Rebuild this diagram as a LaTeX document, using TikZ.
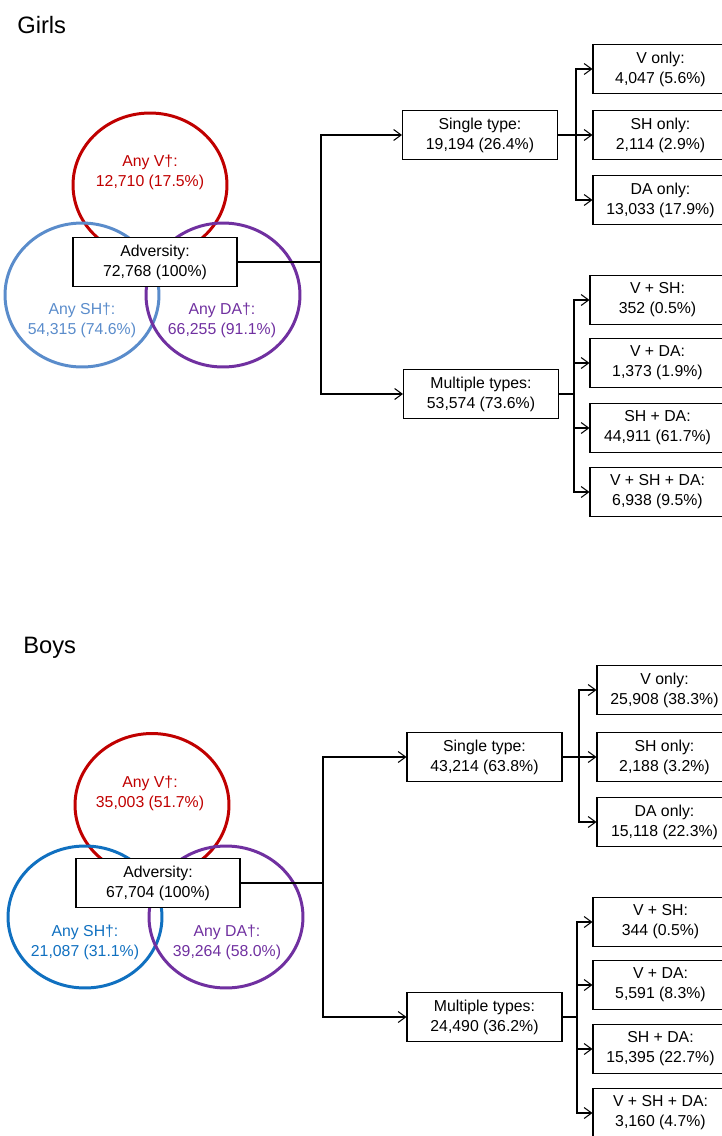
\documentclass[tikz,border=0pt]{standalone}
\usepackage{fontspec}
\setmainfont{Liberation Sans}
\usetikzlibrary{arrows.meta}
\definecolor{vcolor}{HTML}{C00000}
\definecolor{shgirlscolor}{HTML}{5A8CCB}
\definecolor{shboyscolor}{HTML}{1070C0}
\definecolor{dacolor}{HTML}{7030A0}

\tikzset{
  countbox/.style={draw, fill=white, rectangle, line width=0.6pt, align=center, inner sep=0pt,
    minimum width=2.7cm, minimum height=0.98cm, font=\fontsize{9pt}{11.4pt}\selectfont},
  splitbox/.style={countbox, minimum width=3.1cm},
  totalbox/.style={countbox, minimum width=3.28cm},
  setlabel/.style={align=center, inner sep=0pt, font=\fontsize{9pt}{11.4pt}\selectfont},
  setring/.style={line width=1.7pt},
  link/.style={line width=0.6pt},
  arrowlink/.style={link, -{Straight Barb[length=1.5mm,width=2.2mm]}},
  paneltitle/.style={anchor=west, inner sep=0pt, font=\fontsize{13.5pt}{16pt}\selectfont}
}

\begin{document}
\begin{tikzpicture}[x=0.02cm, y=-0.02cm]
\useasboundingbox (0,0) rectangle (722,1136);
\clip (0,0) rectangle (722,1136);

% Girls
\node[paneltitle] (girlstitle) at (17,25) {Girls};
\draw[setring, vcolor] (150,185) ellipse [x radius=1.54cm, y radius=1.44cm];
\draw[setring, shgirlscolor] (82,295) ellipse [x radius=1.54cm, y radius=1.44cm];
\draw[setring, dacolor] (223,295) ellipse [x radius=1.54cm, y radius=1.44cm];
\node[setlabel, text=vcolor] (gvlabel) at (150,172) {Any V†:\\12,710 (17.5\%)};
\node[setlabel, text=shgirlscolor] (gshlabel) at (82,320) {Any SH†:\\54,315 (74.6\%)};
\node[setlabel, text=dacolor] (gdalabel) at (222,320) {Any DA†:\\66,255 (91.1\%)};
\node[totalbox] (gadv) at (155,262) {Adversity:\\72,768 (100\%)};

\node[splitbox] (gsingle) at (480,135) {Single type:\\19,194 (26.4\%)};
\node[splitbox] (gmulti) at (481,394) {Multiple types:\\53,574 (73.6\%)};

\node[countbox] (gvonly) at (660.5,69) {V only:\\4,047 (5.6\%)};
\node[countbox] (gshonly) at (660.5,135) {SH only:\\2,114 (2.9\%)};
\node[countbox] (gdaonly) at (660.5,200) {DA only:\\13,033 (17.9\%)};
\node[countbox] (gvsh) at (657.5,300) {V + SH:\\352 (0.5\%)};
\node[countbox] (gvda) at (657.5,363) {V + DA:\\1,373 (1.9\%)};
\node[countbox] (gshda) at (657.5,428) {SH + DA:\\44,911 (61.7\%)};
\node[countbox] (gall) at (657.5,492) {V + SH + DA:\\6,938 (9.5\%)};

\coordinate (gadvfork) at (321,262);
\coordinate (gsinglefork) at (576,135);
\coordinate (gmultifork) at (574,394);
\draw[link] (gadv.east) -- (gadvfork);
\draw[arrowlink] (gadvfork) |- (gsingle.west);
\draw[arrowlink] (gadvfork) |- (gmulti.west);
\draw[link] (gsingle.east) -- (gsinglefork);
\draw[arrowlink] (gsinglefork) |- (gvonly.west);
\draw[arrowlink] (gsinglefork) |- (gshonly.west);
\draw[arrowlink] (gsinglefork) |- (gdaonly.west);
\draw[link] (gmulti.east) -- (gmultifork);
\draw[arrowlink] (gmultifork) |- (gvsh.west);
\draw[arrowlink] (gmultifork) |- (gvda.west);
\draw[arrowlink] (gmultifork) |- (gshda.west);
\draw[arrowlink] (gmultifork) |- (gall.west);

% Boys
\node[paneltitle] (boystitle) at (23,648) {Boys};
\draw[setring, vcolor] (152,805) ellipse [x radius=1.54cm, y radius=1.43cm];
\draw[setring, shboyscolor] (85,917) ellipse [x radius=1.54cm, y radius=1.42cm];
\draw[setring, dacolor] (226,917) ellipse [x radius=1.54cm, y radius=1.42cm];
\node[setlabel, text=vcolor] (bvlabel) at (150,793) {Any V†:\\35,003 (51.7\%)};
\node[setlabel, text=shboyscolor] (bshlabel) at (85,942) {Any SH†:\\21,087 (31.1\%)};
\node[setlabel, text=dacolor] (bdalabel) at (227,942) {Any DA†:\\39,264 (58.0\%)};
\node[totalbox] (badv) at (158,883) {Adversity:\\67,704 (100\%)};

\node[splitbox] (bsingle) at (484.5,757) {Single type:\\43,214 (63.8\%)};
\node[splitbox] (bmulti) at (484.5,1017) {Multiple types:\\24,490 (36.2\%)};

\node[countbox] (bvonly) at (664.5,690) {V only:\\25,908 (38.3\%)};
\node[countbox] (bshonly) at (664.5,757) {SH only:\\2,188 (3.2\%)};
\node[countbox] (bdaonly) at (664.5,822) {DA only:\\15,118 (22.3\%)};
\node[countbox] (bvsh) at (660.5,922) {V + SH:\\344 (0.5\%)};
\node[countbox] (bvda) at (660.5,985) {V + DA:\\5,591 (8.3\%)};
\node[countbox] (bshda) at (660.5,1049) {SH + DA:\\15,395 (22.7\%)};
\node[countbox] (ball) at (660.5,1113) {V + SH + DA:\\3,160 (4.7\%)};

\coordinate (badvfork) at (323,883);
\coordinate (bsinglefork) at (579,757);
\coordinate (bmultifork) at (577,1017);
\draw[link] (badv.east) -- (badvfork);
\draw[arrowlink] (badvfork) |- (bsingle.west);
\draw[arrowlink] (badvfork) |- (bmulti.west);
\draw[link] (bsingle.east) -- (bsinglefork);
\draw[arrowlink] (bsinglefork) |- (bvonly.west);
\draw[arrowlink] (bsinglefork) |- (bshonly.west);
\draw[arrowlink] (bsinglefork) |- (bdaonly.west);
\draw[link] (bmulti.east) -- (bmultifork);
\draw[arrowlink] (bmultifork) |- (bvsh.west);
\draw[arrowlink] (bmultifork) |- (bvda.west);
\draw[arrowlink] (bmultifork) |- (bshda.west);
\draw[arrowlink] (bmultifork) |- (ball.west);
\end{tikzpicture}
\end{document}
